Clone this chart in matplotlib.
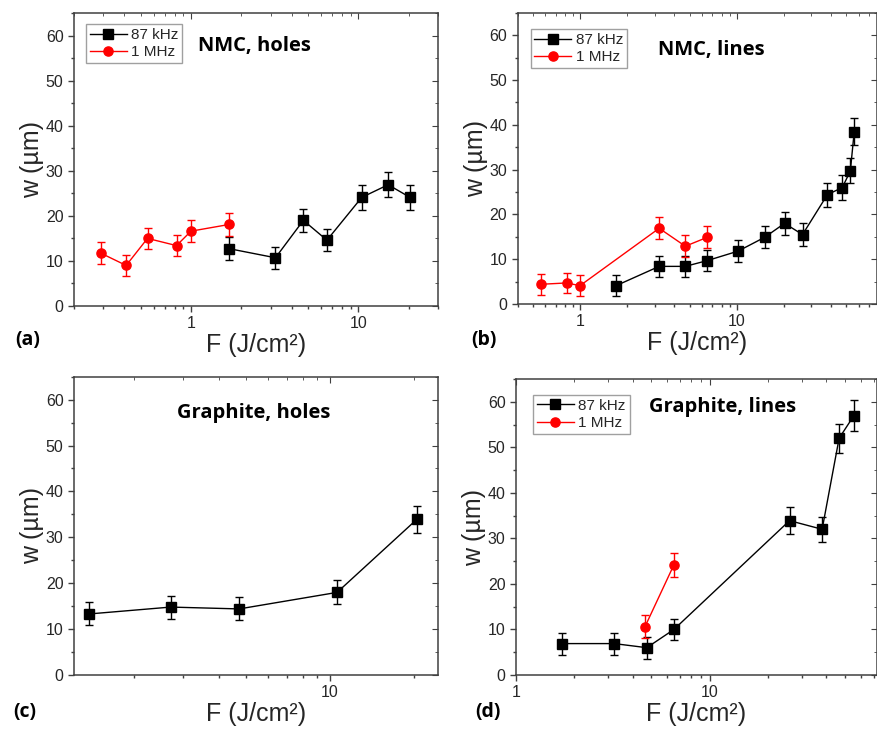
import matplotlib
matplotlib.use('Agg')
import matplotlib.pyplot as plt
from matplotlib.ticker import MultipleLocator, NullFormatter, LogLocator, FixedLocator, FuncFormatter

# (a) NMC, holes
a_red_x = [0.29, 0.41, 0.55, 0.82, 1.0, 1.7]
a_red_y = [11.7, 9.0, 15.0, 13.4, 16.6, 18.1]
a_red_err = [2.4, 2.3, 2.4, 2.4, 2.5, 2.5]
a_blk_x = [1.7, 3.2, 4.7, 6.5, 10.5, 15.1, 20.4]
a_blk_y = [12.7, 10.7, 19.0, 14.6, 24.1, 26.9, 24.1]
a_blk_err = [2.5, 2.4, 2.6, 2.5, 2.7, 2.8, 2.7]

# (b) NMC, lines
b_red_x = [0.56, 0.82, 1.0, 3.2, 4.7, 6.5]
b_red_y = [4.4, 4.7, 4.1, 16.9, 12.9, 14.9]
b_red_err = [2.3, 2.3, 2.3, 2.5, 2.4, 2.5]
b_blk_x = [1.7, 3.2, 4.7, 6.5, 10.2, 15.1, 20.2, 26.3, 37.9, 47.2, 53.1, 56.2]
b_blk_y = [4.1, 8.4, 8.4, 9.7, 11.8, 14.9, 18.0, 15.5, 24.4, 26.0, 29.7, 38.4]
b_blk_err = [2.3, 2.4, 2.4, 2.4, 2.4, 2.5, 2.5, 2.5, 2.7, 2.7, 2.8, 3.0]

# (c) Graphite, holes
c_x = [1.38, 2.70, 4.74, 10.6, 20.4]
c_y = [13.3, 14.8, 14.4, 18.0, 33.9]
c_err = [2.5, 2.5, 2.5, 2.6, 2.9]

# (d) Graphite, lines
d_blk_x = [1.72, 3.21, 4.73, 6.53, 25.8, 38.0, 46.5, 55.3]
d_blk_y = [6.9, 6.9, 6.0, 10.0, 33.9, 32.0, 52.0, 56.9]
d_blk_err = [2.4, 2.4, 2.4, 2.4, 2.9, 2.8, 3.2, 3.4]
d_red_x = [4.63, 6.53]
d_red_y = [10.6, 24.2]
d_red_err = [2.5, 2.7]

plt.rcParams['font.family'] = ['Liberation Sans', 'DejaVu Sans']
TXT = '#262626'
SPINE = '#404040'
BOLD_FONT = ['Open Sans', 'DejaVu Sans']


def series(ax, x, y, err, color, marker, label):
    ax.errorbar(x, y, yerr=err, color=color, marker=marker, markersize=6.6,
                linewidth=1.0, elinewidth=1.0, capsize=3, capthick=1.0,
                label=label)


def style_axes(ax, xlim):
    ax.set_xscale('log')
    ax.set_xlim(xlim)
    ax.set_ylim(0, 65)
    ax.yaxis.set_major_locator(FixedLocator([0, 10, 20, 30, 40, 50, 60]))
    ax.yaxis.set_minor_locator(MultipleLocator(5))
    ax.xaxis.set_major_locator(LogLocator(base=10))
    ax.xaxis.set_major_formatter(FuncFormatter(lambda v, p: f'{v:g}'))
    ax.xaxis.set_minor_formatter(NullFormatter())
    for s in ax.spines.values():
        s.set_color(SPINE)
        s.set_linewidth(1.1)
    ax.tick_params(which='both', direction='out', colors=SPINE, labelcolor=TXT,
                   labelsize=11.5, width=1.0)
    ax.tick_params(which='major', length=4)
    ax.tick_params(which='minor', length=2.5)
    ax.set_xlabel('F (J/cm²)', fontsize=18, color=TXT, labelpad=1)
    ax.set_ylabel('w (µm)', fontsize=18, color=TXT, labelpad=1)
    top = ax.secondary_xaxis('top')
    top.tick_params(which='both', direction='in', labeltop=False, colors=SPINE)
    top.tick_params(which='major', length=4)
    top.tick_params(which='minor', length=2.5)
    top.xaxis.set_minor_formatter(NullFormatter())
    top.spines['top'].set_visible(False)
    right = ax.secondary_yaxis('right')
    right.set_yticks([0, 10, 20, 30, 40, 50, 60])
    right.yaxis.set_minor_locator(MultipleLocator(5))
    right.tick_params(which='both', direction='in', labelright=False, colors=SPINE)
    right.tick_params(which='major', length=4)
    right.tick_params(which='minor', length=2.5)
    right.spines['right'].set_visible(False)


def legend(ax, anchor):
    handles, labels = ax.get_legend_handles_labels()
    # only the line + marker part of each errorbar container
    handles = [h[0] for h in handles]
    leg = ax.legend(handles, labels, loc='upper left', bbox_to_anchor=anchor,
                    borderaxespad=0, fontsize=11, frameon=True, fancybox=False,
                    framealpha=1, edgecolor='#a0a0a0', handlelength=2.4,
                    handletextpad=0.3, borderpad=0.25, labelspacing=0.2)
    leg.get_frame().set_linewidth(1.0)
    for t in leg.get_texts():
        t.set_color(TXT)


def title(ax, x, y, s):
    ax.text(x, y, s, transform=ax.transAxes, fontsize=14.5, fontweight='bold',
            family=BOLD_FONT, va='center', ha='left', color='black')


def main():
    fig = plt.figure(figsize=(8.78, 7.31), dpi=100)

    ax_a = fig.add_axes([0.0843, 0.5814, 0.4146, 0.4008])
    series(ax_a, a_blk_x, a_blk_y, a_blk_err, 'black', 's', '87 kHz')
    series(ax_a, a_red_x, a_red_y, a_red_err, 'red', 'o', '1 MHz')
    style_axes(ax_a, (0.2, 30))
    legend(ax_a, (0.033, 0.962))
    title(ax_a, 0.34, 0.887, 'NMC, holes')

    ax_b = fig.add_axes([0.5896, 0.5841, 0.4087, 0.3985])
    series(ax_b, b_blk_x, b_blk_y, b_blk_err, 'black', 's', '87 kHz')
    series(ax_b, b_red_x, b_red_y, b_red_err, 'red', 'o', '1 MHz')
    style_axes(ax_b, (0.4, 78))
    legend(ax_b, (0.036, 0.944))
    title(ax_b, 0.391, 0.873, 'NMC, lines')

    ax_c = fig.add_axes([0.0843, 0.0766, 0.4146, 0.4081])
    series(ax_c, c_x, c_y, c_err, 'black', 's', None)
    style_axes(ax_c, (1.22, 24.3))
    title(ax_c, 0.284, 0.877, 'Graphite, holes')

    ax_d = fig.add_axes([0.5877, 0.0766, 0.4106, 0.4049])
    series(ax_d, d_blk_x, d_blk_y, d_blk_err, 'black', 's', '87 kHz')
    series(ax_d, d_red_x, d_red_y, d_red_err, 'red', 'o', '1 MHz')
    style_axes(ax_d, (1, 72.5))
    legend(ax_d, (0.048, 0.946))
    title(ax_d, 0.368, 0.906, 'Graphite, lines')

    for lab, x, y in [('(a)', 15, 340), ('(b)', 471, 340), ('(c)', 13, 712), ('(d)', 475, 712)]:
        fig.text(x / 878, 1 - y / 731, lab, fontsize=14, fontweight='bold',
                 family=BOLD_FONT, va='center', ha='left', color='black')

    fig.savefig('out.png', dpi=100)


if __name__ == "__main__":
    main()
